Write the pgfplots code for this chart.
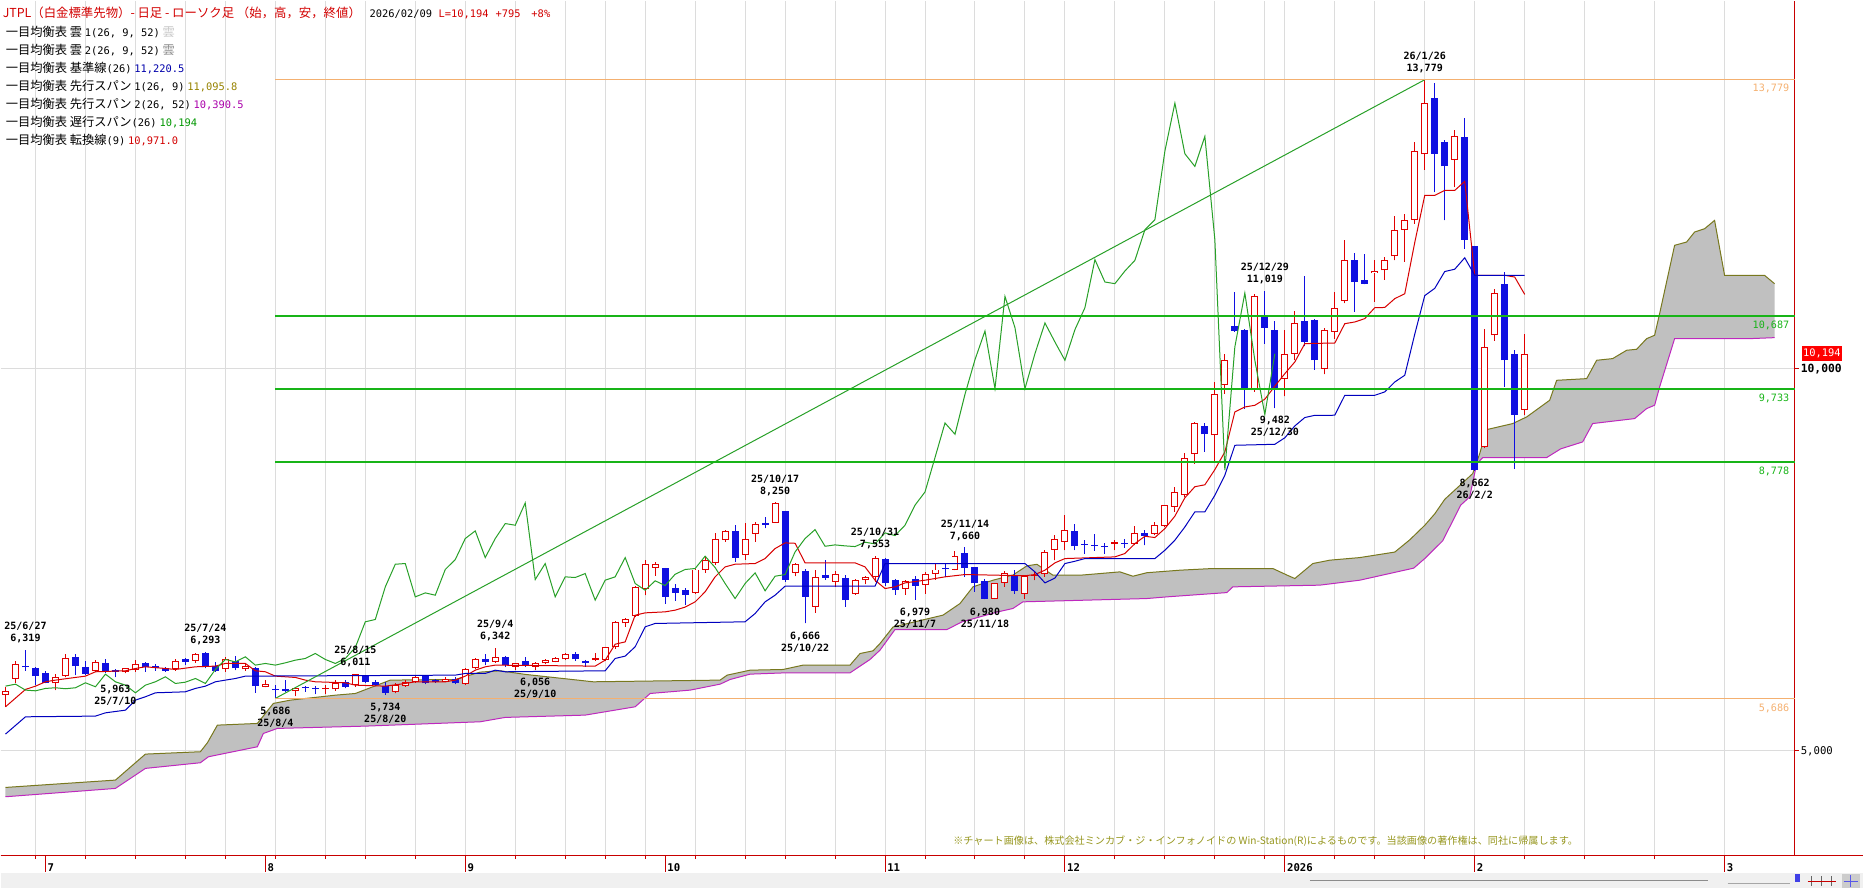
\documentclass[border=0pt]{standalone}
\usepackage{fontspec}
\setmainfont{Noto Sans CJK JP}
\newfontfamily\jp{Noto Sans CJK JP}
\newfontfamily\mono{DejaVu Sans Mono}
\usepackage{pgfplots}
\usepackage{pgfplotstable}
\usepgfplotslibrary{fillbetween}
\pgfplotsset{compat=1.18}

\definecolor{cup}{RGB}{225,0,0}
\definecolor{cdown}{RGB}{16,16,225}
\definecolor{tenkan}{RGB}{215,0,0}
\definecolor{kijun}{RGB}{0,0,190}
\definecolor{chikou}{RGB}{40,160,40}
\definecolor{fibg}{RGB}{24,180,24}
\definecolor{fibo}{RGB}{244,176,112}
\definecolor{spana}{RGB}{120,120,30}
\definecolor{spanb}{RGB}{190,40,190}
\definecolor{cloud}{RGB}{192,192,192}
\definecolor{gridc}{RGB}{220,220,220}
\definecolor{axred}{RGB}{200,0,0}
\definecolor{lgred}{RGB}{210,0,0}
\definecolor{lgblue}{RGB}{0,0,170}
\definecolor{lgolive}{RGB}{150,130,0}
\definecolor{lgpurple}{RGB}{170,0,170}
\definecolor{lggreen}{RGB}{0,150,0}
\definecolor{note}{RGB}{150,150,30}

% trading days: slot, open, high, low, close
\pgfplotstableread{
x o h l c
0 5729 5829 5576 5785
1 5946 6173 5890 6134
2 6116 6319 6047 6090
3 6077 6099 5859 5977
4 6012 6047 5881 5890
5 5881 6003 5794 5968
6 5977 6264 5960 6208
7 6221 6273 5990 6108
8 6090 6173 5990 6003
9 6047 6186 6034 6156
10 6151 6195 6020 6034
11 6055 6064 5963 6029
12 6029 6086 6012 6077
13 6055 6186 6034 6134
14 6143 6164 6034 6099
15 6108 6134 6047 6077
16 6077 6099 6034 6047
17 6064 6195 6047 6177
18 6199 6208 6121 6164
19 6177 6282 6151 6264
20 6282 6293 6080 6090
21 6108 6164 6034 6047
22 6064 6221 6034 6195
23 6177 6238 6055 6077
24 6064 6143 6047 6108
25 6077 6099 5759 5846
26 5838 5933 5829 5872
27 5807 5859 5686 5794
28 5803 5933 5772 5785
29 5781 5829 5716 5816
30 5833 5846 5772 5825
31 5820 5846 5742 5812
32 5812 5859 5742 5825
33 5803 5925 5785 5890
34 5903 5925 5816 5838
35 5859 6011 5838 6003
36 5977 5990 5881 5903
37 5903 5933 5846 5859
38 5846 5903 5734 5759
39 5772 5881 5750 5859
40 5846 5933 5838 5903
41 5903 5990 5890 5968
42 5977 5990 5872 5881
43 5925 5946 5890 5898
44 5903 5968 5894 5946
45 5942 5960 5872 5881
46 5872 6077 5859 6064
47 6077 6208 6064 6195
48 6195 6273 6121 6164
49 6164 6342 6151 6230
50 6230 6243 6099 6121
51 6099 6151 6060 6143
52 6177 6221 6099 6121
53 6099 6160 6056 6151
54 6143 6199 6134 6186
55 6164 6230 6156 6208
56 6195 6282 6186 6273
57 6273 6290 6177 6195
58 6177 6186 6099 6143
59 6186 6282 6177 6208
60 6186 6361 6177 6352
61 6361 6697 6335 6688
62 6666 6740 6622 6718
63 6762 7154 6753 7145
64 7123 7502 7036 7441
65 7398 7476 7288 7450
66 7398 7398 6923 7014
67 7136 7180 6962 7066
68 7101 7136 6914 7036
69 7066 7380 7058 7372
70 7372 7532 7327 7502
71 7459 7847 7432 7777
72 7764 7890 7734 7877
73 7877 7956 7476 7528
74 7559 7982 7502 7777
75 7842 7995 7734 7973
76 7982 8060 7912 7951
77 7982 8250 7982 8243
78 8134 8134 7215 7241
79 7328 7456 7284 7450
80 7354 7380 6666 7014
81 6883 7363 6805 7276
82 7297 7502 7241 7267
83 7210 7354 7145 7319
84 7267 7297 6884 6971
85 7049 7250 7040 7232
86 7232 7293 7180 7276
87 7276 7553 7206 7528
88 7515 7528 7158 7189
89 7241 7254 7040 7101
90 7123 7237 7040 7224
91 7245 7284 6979 7162
92 7167 7337 7058 7310
93 7310 7450 7241 7372
94 7398 7450 7276 7385
95 7372 7615 7363 7546
96 7589 7660 7276 7398
97 7406 7406 7080 7189
98 7223 7250 6980 6992
99 6992 7200 6985 7189
100 7197 7354 7145 7328
101 7302 7363 7058 7093
102 7058 7306 6992 7284
103 7293 7341 7232 7306
104 7310 7633 7276 7602
105 7633 7820 7493 7777
106 7733 8082 7624 7894
107 7877 7964 7624 7676
108 7707 7755 7581 7694
109 7694 7834 7615 7681
110 7685 7720 7581 7672
111 7703 7755 7624 7729
112 7720 7777 7659 7707
113 7711 7938 7689 7851
114 7851 7886 7689 7816
115 7842 7995 7820 7951
116 7938 8213 7929 8213
117 8191 8452 8126 8387
118 8343 8897 8322 8836
119 8880 9300 8757 9289
120 9246 9289 8910 9141
121 9128 9825 8770 9664
122 9782 10196 9673 10117
123 10553 11000 10480 10492
124 10501 10520 9477 9738
125 9716 10980 9695 10945
126 10675 11019 10327 10536
127 10501 10623 9482 9738
128 9869 10501 9638 10196
129 10196 10754 10109 10597
130 10623 11207 10292 10348
131 10632 10650 9987 10109
132 9999 10536 9926 10510
133 10479 11002 10392 10797
134 10884 11678 10858 11425
135 11425 11512 10741 11133
136 11155 11503 11102 11111
137 11250 11416 10872 11277
138 11285 11460 11163 11416
139 11468 11992 11416 11817
140 11817 12026 11395 11948
141 11948 12963 11896 12845
142 12802 13779 12602 13473
143 13543 13735 12309 12811
144 12963 12990 11939 12645
145 12732 13116 12375 13037
146 13029 13281 11569 11687
147 11599 11599 8662 8671
148 8976 10523 8960 10283
149 10436 11046 10362 10989
150 11102 11264 9760 10109
151 10196 10248 8692 9399
152 9464 10449 9389 10194
}\candles

\tikzset{
  hl/.style={font=\mono\bfseries\fontsize{7.5}{9}\selectfont, inner sep=0pt, anchor=base},
  lg/.style={font=\jp\fontsize{9.2}{12}\selectfont, inner sep=0pt, anchor=base west},
  fl/.style={font=\mono\fontsize{7.6}{9}\selectfont, inner sep=0pt, anchor=east},
}
\pgfplotsset{
  candle/.style={only marks, mark=*, mark size=0pt, mark options={draw=none, fill=none},
    error bars/.cd, y dir=plus, y explicit, error mark=none, error bar style={#1}},
}
\newcommand\num[1]{{\mono\fontsize{7.8}{9}\selectfont #1}}
\newcommand\hi[4]{\node[hl,yshift=6.2pt] at (axis cs:#1,#2) {#3};\node[hl,yshift=15.2pt] at (axis cs:#1,#2) {#4};}
\newcommand\lo[4]{\node[hl,yshift=-11.8pt] at (axis cs:#1,#2) {#3};\node[hl,yshift=-20.8pt] at (axis cs:#1,#2) {#4};}
% up = close not below open (1 or 0)
\newcommand\isup{(\thisrow{c}>\thisrow{o}-0.5)}
\newcommand\isdn{(\thisrow{c}<\thisrow{o}-0.5)}

\begin{document}
\begin{tikzpicture}
\begin{axis}[
  name=ax, at={(0,0)}, anchor=north west,
  scale only axis, width=1346.25pt, height=641.25pt,
  xmin=-0.5, xmax=179, ymin=3636.4, ymax=14815.5,
  clip=false, scaled y ticks=false, scaled x ticks=false,
  axis x line*=bottom, axis y line*=right,
  x axis line style={-, axred, line width=0.75pt},
  y axis line style={-, axred, line width=0.75pt},
  xtick={3,8,13,18,22,27,32,36,41,46,51,56,60,64,69,74,78,83,88,92,97,102,106,111,116,121,126,128,133,137,142,147,152,158,165,172},
  ytick={5000,10000},
  xticklabels={}, yticklabels={},
  xmajorgrids, ymajorgrids,
  major grid style={gridc, line width=0.75pt},
  tick style={axred, line width=0.75pt},
  tick align=outside, major tick length=3pt,
]
% Ichimoku cloud
\addplot[name path=sa, spana, line width=0.75pt] coordinates {
(0,4521)(11,4617)(14,4957)(19.5,4988)(20.2,5105)(21.2,5336)(25.2,5358)(26.8,5620)(28.5,5663)(33,5728)(35,5750)(38.5,5925)(45,5933)(47.5,6030)(49.5,6047)(52,6000)(58.8,5903)(71.5,5925)(72.2,5990)(74.5,6055)(77.8,6064)(79.8,6121)(84.5,6121)(85.5,6273)(86.8,6308)(87.5,6404)(88.8,6620)(93.8,6775)(95.5,6927)(96.8,7145)(98.8,7232)(100.8,7300)(102.2,7420)(103.2,7440)(104.8,7297)(107.5,7297)(111.5,7341)(112.8,7284)(114.2,7330)(117.5,7363)(120.8,7385)(126.8,7385)(128.2,7300)(129,7254)(130.8,7450)(132.5,7494)(135.5,7528)(139,7600)(140.5,7760)(142,7950)(143,8100)(144,8290)(146.8,8627)(147.5,8889)(148.2,9202)(150.8,9281)(152.2,9368)(154.5,9586)(155.2,9847)(158.2,9869)(159.2,10109)(160.8,10131)(162.2,10240)(163.2,10253)(164.2,10392)(165,10436)(165.5,10719)(167,11613)(168.2,11656)(169,11787)(170,11830)(171,11939)(172,11220)(176,11220)(177,11111)
};
\addplot[name path=sb, spanb, line width=0.75pt] coordinates {
(0,4399)(11,4508)(14,4770)(19.5,4844)(20.3,4922)(25.2,5053)(25.8,5227)(27.2,5293)(36,5323)(47.5,5380)(50,5437)(58,5467)(63,5576)(64.5,5750)(68.5,5794)(71.5,5872)(72.5,5933)(74.5,6003)(78,6020)(84.5,6020)(85.5,6108)(86.5,6195)(87.5,6317)(89,6587)(94.2,6587)(95.7,6687)(99.3,6818)(100.8,6862)(101.8,6949)(114.2,6992)(116.2,7014)(122.2,7070)(122.8,7145)(131.5,7167)(135.5,7232)(140.9,7390)(142,7515)(143.8,7748)(145.6,8214)(146.5,8322)(147.2,8758)(147.8,8836)(154.2,8836)(155.6,8950)(157.8,9041)(158.8,9281)(160.2,9303)(163,9346)(164.2,9477)(165,9521)(165.5,9760)(167,10392)(174.5,10392)(177,10405)
};
\addplot[cloud] fill between[of=sa and sb];

% candles: a bar of zero length is invisible, so each series draws only its own days
\addplot[candle={cup, line width=0.75pt}]
  table[x=x, y=l, y error expr={\isup*(\thisrow{h}-\thisrow{l})}] {\candles};
\addplot[candle={cdown, line width=0.75pt}]
  table[x=x, y=l, y error expr={\isdn*(\thisrow{h}-\thisrow{l})}] {\candles};
\addplot[candle={cup, line width=5.25pt}]
  table[x=x, y=o, y error expr={\isup*max(\thisrow{c}-\thisrow{o},13)}] {\candles};
\addplot[candle={white, line width=3.75pt}]
  table[x=x, y expr=\thisrow{o}+13, y error expr={\isup*max(\thisrow{c}-\thisrow{o}-26,0)}] {\candles};
\addplot[candle={cdown, line width=5.25pt}]
  table[x=x, y=c, y error expr={\isdn*max(\thisrow{o}-\thisrow{c},13)}] {\candles};

% tenkan-sen
\addplot[tenkan, line width=0.75pt] coordinates {
(0,5576)(2,5803)(3,5846)(4,5903)(5,5925)(7,5960)(8,5977)(9,6034)(12,6047)(13,6077)(14,6099)(16,6077)(17,6064)(19,6099)(21,6108)(22,6143)(24,6143)(25,6047)(26,6034)(27,5977)(29,5960)(30,5925)(31,5903)(34,5890)(35,5859)(38,5846)(40,5881)(41,5903)(44,5903)(45,5925)(46,5977)(47,6055)(48,6099)(49,6121)(59,6108)(60,6186)(61,6395)(62,6425)(63,6774)(64,6805)(66,6818)(67,6840)(68,6880)(69,6949)(70,7080)(71,7276)(72,7406)(73,7441)(75,7450)(76,7515)(77,7646)(78,7720)(79,7715)(80,7459)(85,7459)(86,7406)(87,7232)(88,7123)(89,7145)(90,7197)(92,7232)(94,7276)(96,7306)(102,7290)(103,7306)(104,7363)(105,7459)(106,7515)(111,7537)(112,7581)(113,7711)(114,7807)(115,7790)(116,7908)(117,8070)(118,8310)(119,8455)(120,8480)(121,8679)(122,8910)(123,9433)(124,9498)(125,9520)(126,9600)(127,9770)(128,9934)(129,10087)(130,10327)(133,10335)(134,10588)(135,10610)(136,10654)(137,10797)(138,10800)(139,10915)(140,10980)(141,11650)(142,12266)(143,12266)(144,12331)(145,12331)(146,12450)(147,11220)(150,11220)(151,11198)(152,10971)
};
% kijun-sen
\addplot[kijun, line width=0.75pt] coordinates {
(0,5219)(2,5445)(9,5454)(10,5497)(12,5532)(13,5663)(14,5707)(15,5759)(18,5772)(19,5816)(20,5846)(21,5903)(22,5925)(23,5946)(24,5977)(45,5990)(46,6012)(48,6012)(49,6055)(50,6034)(60,6047)(61,6208)(62,6239)(63,6361)(64,6622)(65,6666)(74,6688)(75,6796)(76,6949)(77,7036)(78,7154)(87,7154)(88,7450)(102,7450)(103,7341)(104,7197)(105,7260)(106,7450)(107,7480)(108,7515)(115,7515)(116,7624)(117,7755)(118,7929)(119,8126)(120,8126)(121,8343)(122,8605)(123,8997)(127,9010)(128,9095)(129,9250)(130,9360)(131,9389)(133,9390)(134,9651)(137,9651)(138,9695)(139,9825)(140,9913)(141,10450)(142,10955)(143,11050)(144,11270)(145,11300)(146,11450)(147,11220)(152,11220)
};
% chikou span: closes shifted back 25 slots
\addplot[chikou, line width=0.75pt, restrict x to domain=0:200] table[x expr=\thisrow{x}-25, y=c] {\candles};

% trend line and retracement levels
\addplot[chikou, line width=0.75pt] coordinates {(27,5686) (142,13779)};
\addplot[fibo, line width=0.75pt] coordinates {(27,13779) (179,13779)};
\addplot[fibo, line width=0.75pt] coordinates {(27,5686) (179,5686)};
\addplot[fibg, line width=1.5pt] coordinates {(27,10687) (179,10687)};
\addplot[fibg, line width=1.5pt] coordinates {(27,9733) (179,9733)};
\addplot[fibg, line width=1.5pt] coordinates {(27,8778) (179,8778)};

% swing highs and lows
\hi{2}{6319}{6,319}{25/6/27}
\lo{11}{5963}{5,963}{25/7/10}
\hi{20}{6293}{6,293}{25/7/24}
\lo{27}{5686}{5,686}{25/8/4}
\hi{35}{6011}{6,011}{25/8/15}
\lo{38}{5734}{5,734}{25/8/20}
\hi{49}{6342}{6,342}{25/9/4}
\lo{53}{6056}{6,056}{25/9/10}
\hi{77}{8250}{8,250}{25/10/17}
\lo{80}{6666}{6,666}{25/10/22}
\hi{87}{7553}{7,553}{25/10/31}
\lo{91}{6979}{6,979}{25/11/7}
\hi{96}{7660}{7,660}{25/11/14}
\lo{98}{6980}{6,980}{25/11/18}
\hi{126}{11019}{11,019}{25/12/29}
\lo{127}{9482}{9,482}{25/12/30}
\hi{142}{13779}{13,779}{26/1/26}
\lo{147}{8662}{8,662}{26/2/2}
\end{axis}

% overlay in reference pixels, origin at top-left of the plot box
\begin{scope}[x=0.75pt, y=-0.75pt]
\draw[axred, line width=0.75pt] (0,855) -- (1863,855);
\foreach \s/\t in {4/7, 26/8, 46/9, 66/10, 88/11, 106/12, 128/2026, 147/2, 172/3} {
  \draw[axred, line width=0.75pt] (5+10*\s,855) -- (5+10*\s,872);
  \node[font=\mono\bfseries\fontsize{8}{9}\selectfont, inner sep=0pt, anchor=base west] at (7+10*\s,871) {\t};
}
\fill[black!6] (0,873) rectangle (1863,888);
\draw[black!45, line width=0.75pt] (1310,880.5) -- (1708,880.5);
\draw[black!35, line width=0.6pt] (1728,883) -- (1790,883);
\fill[cdown!80] (1795,874) rectangle (1800,882);
\draw[black!60, line width=0.75pt] (1812,876) -- (1812,886) (1822,876) -- (1822,886) (1832,876) -- (1832,886);
\draw[axred, line width=0.75pt] (1808,881) -- (1836,881);
\fill[black!20] (1842,874) rectangle (1860,888);
\draw[cdown!70, line width=0.75pt] (1851,875) -- (1851,887) (1844,881) -- (1858,881);

% right-hand labels
\node[fl, text=fibo] at (1790,88) {13,779};
\node[fl, text=fibg] at (1790,325.5) {10,687};
\node[fl, text=fibg] at (1790,398.5) {9,733};
\node[fl, text=fibg] at (1790,471) {8,778};
\node[fl, text=fibo] at (1790,708) {5,686};
\node[fill=red, text=white, inner sep=0pt, minimum width=30pt, minimum height=11.25pt, anchor=west,
  font=\mono\fontsize{7.8}{9}\selectfont] at (1802,353) {10,194};
\node[font=\mono\bfseries\fontsize{8.5}{10}\selectfont, inner sep=0pt, anchor=west] at (1801,368.5) {10,000};
\node[font=\mono\fontsize{8}{10}\selectfont, inner sep=0pt, anchor=west] at (1801,751) {5,000};

% legend
\node[lg, text=lgred, font=\jp\fontsize{9.3}{12}\selectfont] at (2,17) {JTPL（白金標準先物）- 日足 - ローソク足 （始，高，安，終値）};
\node[lg] at (369,17) {\num{2026/02/09}};
\node[lg, text=lgred] at (438,17) {\num{L=10,194}};
\node[lg, text=lgred] at (495,17) {\num{+795}};
\node[lg, text=lgred] at (531,17) {\num{+8\%}};
\node[lg] at (5,36) {一目均衡表 雲 \num{1(26, 9, 52)} \textcolor{black!22}{雲}};
\node[lg] at (5,54) {一目均衡表 雲 \num{2(26, 9, 52)} \textcolor{black!45}{雲}};
\node[lg] at (5,72) {一目均衡表 基準線\num{(26)} \textcolor{lgblue}{\num{11,220.5}}};
\node[lg] at (5,90) {一目均衡表 先行スパン \num{1(26, 9)} \textcolor{lgolive}{\num{11,095.8}}};
\node[lg] at (5,108) {一目均衡表 先行スパン \num{2(26, 52)} \textcolor{lgpurple}{\num{10,390.5}}};
\node[lg] at (5,126) {一目均衡表 遅行スパン\num{(26)} \textcolor{lggreen}{\num{10,194}}};
\node[lg] at (5,144) {一目均衡表 転換線\num{(9)} \textcolor{lgred}{\num{10,971.0}}};

% copyright note
\node[font=\jp\fontsize{7.6}{9}\selectfont, text=note, inner sep=0pt, anchor=base west] at (953,844)
  {※チャート画像は、株式会社ミンカブ・ジ・インフォノイドの Win-Station(R)によるものです。当該画像の著作権は、同社に帰属します。};
% whole picture, as in the reference
\path (0,0) rectangle (1863,888);
\end{scope}
\end{tikzpicture}
\end{document}
